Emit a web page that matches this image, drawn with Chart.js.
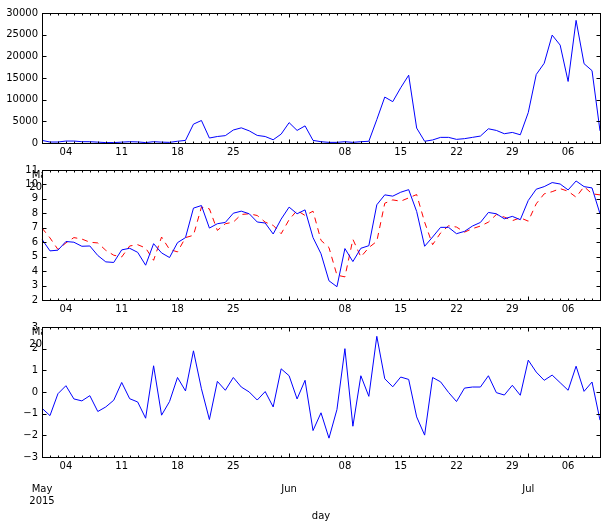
<!DOCTYPE html>
<html>
<head>
<meta charset="utf-8">
<script src="https://cdn.jsdelivr.net/npm/chart.js@4.4.1/dist/chart.umd.min.js"></script>
<style>
  html, body { margin: 0; padding: 0; background: #fff; }
  #wrap { position: relative; width: 606px; height: 529px; overflow: hidden; }
  canvas { position: absolute; left: 0; }
</style>
</head>
<body>
<div id="wrap">
  <canvas id="top" width="606" height="200" style="top:0px"></canvas>
  <canvas id="mid" width="606" height="200" style="top:157px"></canvas>
  <canvas id="bot" width="606" height="215" style="top:314px"></canvas>
</div>
<script>
// daily index, 2015-05-01 .. 2015-07-10
const days = [];
for (let t = Date.UTC(2015, 4, 1); t <= Date.UTC(2015, 6, 10); t += 864e5) {
    days.push(new Date(t).toISOString().slice(0, 10));
}
const monthNames = { "05": "May", "06": "Jun", "07": "Jul" };

const volume = [
    600, 230, 230, 450, 450, 300, 300, 200, 100, 100,
    200, 300, 250, 100, 300, 200, 150, 400, 600, 4350,
    5190, 1150, 1500, 1700, 3000, 3500, 2800, 1750, 1500, 750,
    2050, 4700, 2900, 3950, 600, 300, 150, 150, 300, 150,
    300, 400, 5400, 10600, 9540, 12750, 15650, 3440, 400, 700,
    1300, 1300, 840, 1000, 1300, 1600, 3280, 2900, 2140, 2440,
    1900, 7020, 15800, 18400, 24900, 22600, 14200, 28300, 18300, 16700,
    2800
];

const level = [
    6.2, 5.4, 5.45, 6.05, 6.0, 5.72, 5.74, 5.08, 4.64, 4.6,
    5.47, 5.58, 5.3, 4.41, 5.9, 5.26, 4.94, 5.97, 6.32, 8.36,
    8.54, 6.98, 7.28, 7.37, 8.01, 8.15, 7.97, 7.4, 7.33, 6.57,
    7.6, 8.43, 7.97, 8.24, 6.32, 5.2, 3.33, 2.92, 5.56, 4.66,
    5.58, 5.76, 8.59, 9.28, 9.19, 9.46, 9.64, 8.13, 5.72, 6.36,
    7.03, 7.03, 6.59, 6.75, 7.12, 7.37, 8.06, 7.97, 7.62, 7.79,
    7.56, 8.89, 9.67, 9.85, 10.13, 10.03, 9.62, 10.24, 9.85, 9.76,
    7.97
];

const levelLag = [
    6.98, 6.3, 5.5, 5.95, 6.32, 6.22, 6.0, 5.95, 5.44, 5.1,
    4.98, 5.74, 5.83, 5.6, 4.75, 6.36, 5.5, 5.33, 6.32, 6.48,
    8.43, 8.31, 6.82, 7.28, 7.39, 7.92, 7.97, 7.85, 7.39, 7.17,
    6.59, 7.56, 8.2, 7.85, 8.15, 6.13, 5.63, 3.72, 3.6, 6.2,
    4.98, 5.63, 6.06, 8.7, 8.93, 8.84, 9.07, 9.3, 7.39, 5.83,
    6.64, 7.14, 7.05, 6.7, 6.94, 7.12, 7.39, 7.92, 7.74, 7.49,
    7.69, 7.46, 8.66, 9.35, 9.5, 9.71, 9.53, 9.12, 9.85, 9.35,
    9.28
];

const change = [
    -0.75, -1.09, -0.08, 0.29, -0.32, -0.41, -0.17, -0.9, -0.69, -0.38,
    0.44, -0.31, -0.46, -1.21, 1.21, -1.07, -0.44, 0.67, 0.05, 1.9,
    0.15, -1.27, 0.49, 0.08, 0.67, 0.23, 0.0, -0.37, 0.02, -0.69,
    1.07, 0.75, -0.32, 0.54, -1.78, -0.96, -2.13, -0.81, 2.0, -1.58,
    0.75, -0.2, 2.57, 0.61, 0.24, 0.69, 0.58, -1.15, -1.99, 0.67,
    0.47, -0.02, -0.44, 0.18, 0.23, 0.23, 0.75, -0.03, -0.14, 0.31,
    -0.15, 1.47, 0.92, 0.54, 0.78, 0.43, 0.08, 1.19, 0.03, 0.46,
    -1.3
];

Chart.defaults.font.family = "'DejaVu Sans', sans-serif";
Chart.defaults.font.size = 10;
Chart.defaults.color = "#000";

function dayLabel(i) {
    const [yr, m, d] = days[i].split("-");
    if (d === "01") {
        return i === 0 ? ["", "", monthNames[m], yr] : ["", "", monthNames[m]];
    }
    const wd = new Date(days[i] + "T00:00:00Z").getUTCDay();
    return wd === 1 ? d : "";
}

// matplotlib-like frame with inward ticks
const frame = {
    id: "frame",
    beforeDraw(chart) {
        const { ctx, chartArea: a } = chart;
        ctx.save();
        ctx.fillStyle = "#fff";
        ctx.fillRect(a.left, a.top, a.right - a.left + 1, a.bottom - a.top + 1);
        ctx.restore();
    },
    afterDraw(chart) {
        const { ctx, chartArea: a, scales } = chart;
        const L = Math.round(a.left) + 0.5, R = Math.round(a.right) + 0.5;
        const T = Math.round(a.top) + 0.5, B = Math.round(a.bottom) + 0.5;
        ctx.save();
        ctx.strokeStyle = "#000";
        ctx.lineWidth = 1;
        ctx.beginPath();
        scales.y.ticks.forEach(t => {
            const py = Math.round(scales.y.getPixelForValue(t.value)) + 0.5;
            ctx.moveTo(L, py); ctx.lineTo(L + 4, py);
            ctx.moveTo(R, py); ctx.lineTo(R - 4, py);
        });
        days.forEach((d, i) => {
            const px = Math.round(scales.x.getPixelForValue(i)) + 0.5;
            const len = d.endsWith("-01") ? 4 : 2;
            ctx.moveTo(px, B); ctx.lineTo(px, B - len);
            ctx.moveTo(px, T); ctx.lineTo(px, T + len);
        });
        ctx.stroke();
        ctx.strokeRect(L, T, R - L, B - T);
        ctx.restore();
    }
};

function makePanel(id, datasets, yMin, yMax, yStep, xHeight, xTitle) {
    return new Chart(document.getElementById(id), {
        type: "line",
        data: { labels: days, datasets: datasets },
        options: {
            responsive: false,
            animation: false,
            events: [],
            layout: { padding: { top: 13, right: 6, left: 0, bottom: 0 }, autoPadding: false },
            plugins: { legend: { display: false }, tooltip: { enabled: false } },
            elements: { point: { radius: 0 }, line: { tension: 0, borderWidth: 1 } },
            scales: {
                x: {
                    type: "category",
                    offset: false,
                    grid: { display: false, drawTicks: false },
                    border: { display: false },
                    ticks: {
                        autoSkip: false,
                        maxRotation: 0,
                        minRotation: 0,
                        padding: 4,
                        font: { size: 10, lineHeight: 1.15 },
                        callback: (v, i) => dayLabel(i)
                    },
                    title: xTitle
                        ? { display: true, text: xTitle, font: { size: 10 }, padding: { top: 0, bottom: 7 } }
                        : { display: false },
                    afterFit: s => { s.height = xHeight; }
                },
                y: {
                    min: yMin,
                    max: yMax,
                    grid: { display: false, drawTicks: false },
                    border: { display: false },
                    ticks: {
                        stepSize: yStep,
                        autoSkip: false,
                        padding: 4,
                        callback: v => String(v).replace("-", "\u2212")
                    },
                    afterFit: s => { s.width = 42; }
                }
            }
        },
        plugins: [frame]
    });
}

makePanel("top", [
    { label: "volume", data: volume, borderColor: "#0000ff" }
], 0, 30000, 5000, 57);

makePanel("mid", [
    { label: "level", data: level, borderColor: "#0000ff" },
    { label: "level lag", data: levelLag, borderColor: "#ff0000", borderDash: [6, 5] }
], 2, 11, 1, 57);

makePanel("bot", [
    { label: "change", data: change, borderColor: "#0000ff" }
], -3, 3, 1, 72, "day");
</script>
</body>
</html>
